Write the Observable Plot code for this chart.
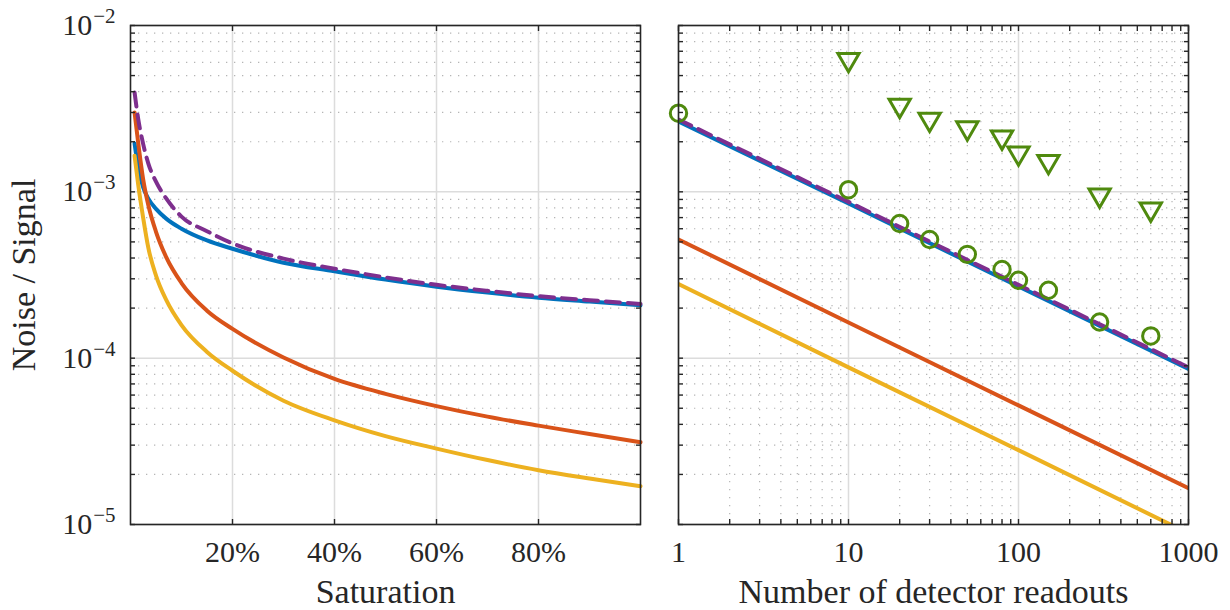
<!DOCTYPE html>
<html><head><meta charset="utf-8">
<script src="https://cdn.jsdelivr.net/npm/d3@7"></script>
<script src="https://cdn.jsdelivr.net/npm/@observablehq/plot@0.6"></script>
<style>
html,body{margin:0;padding:0;background:#fff;}
#wrap{display:flex;width:1230px;height:610px;overflow:hidden;}
</style></head><body><div id="wrap"></div>
<script>
// ---- Left panel: noise/signal vs saturation ----
const saturation = [0.008, 0.015, 0.025, 0.035, 0.05, 0.07, 0.1, 0.15, 0.2, 0.3, 0.4, 0.5, 0.6, 0.7, 0.8, 0.9, 1.0];
const satBlue   = [1.95e-3, 1.40e-3, 1.06e-3, 9.1e-4, 7.9e-4, 6.9e-4, 6.0e-4, 5.1e-4, 4.55e-4, 3.75e-4, 3.33e-4, 2.97e-4, 2.69e-4, 2.48e-4, 2.31e-4, 2.19e-4, 2.08e-4];
const satRed    = [3.0e-3, 1.98e-3, 1.18e-3, 8.3e-4, 5.75e-4, 4.05e-4, 2.83e-4, 1.93e-4, 1.5e-4, 1.01e-4, 7.5e-5, 6.1e-5, 5.15e-5, 4.45e-5, 3.93e-5, 3.5e-5, 3.12e-5];
const satYellow = [1.65e-3, 1.11e-3, 6.93e-4, 4.6e-4, 3.14e-4, 2.24e-4, 1.58e-4, 1.09e-4, 8.4e-5, 5.55e-5, 4.23e-5, 3.4e-5, 2.86e-5, 2.44e-5, 2.12e-5, 1.89e-5, 1.70e-5];
const satPurple = [3.95e-3, 2.76e-3, 1.93e-3, 1.478e-3, 1.151e-3, 9.12e-4, 7.1e-4, 5.8e-4, 4.9e-4, 3.97e-4, 3.45e-4, 3.06e-4, 2.76e-4, 2.54e-4, 2.36e-4, 2.23e-4, 2.12e-4];
const satTicks = [0.2, 0.4, 0.6, 0.8];

// ---- Right panel: noise/signal vs number of readouts ----
const readouts = [1, 10, 100, 1000];
const readBlue   = [2.65e-3, 8.5e-4, 2.7e-4, 8.6e-5];
const readPurple = [2.72e-3, 8.7e-4, 2.76e-4, 8.8e-5];
const readRed    = [5.17e-4, 1.64e-4, 5.2e-5, 1.65e-5];
const readYellow = [2.79e-4, 8.8e-5, 2.8e-5, 8.85e-6];
const circleN = [1, 10, 20, 30, 50, 80, 100, 150, 300, 600];
const circleV = [2.97e-3, 1.03e-3, 6.45e-4, 5.17e-4, 4.21e-4, 3.41e-4, 2.94e-4, 2.56e-4, 1.65e-4, 1.36e-4];
const triN = [10, 20, 30, 50, 80, 100, 150, 300, 600];
const triV = [6.24e-3, 3.31e-3, 2.73e-3, 2.42e-3, 2.13e-3, 1.71e-3, 1.52e-3, 9.54e-4, 7.86e-4];
const readTicks = [1, 10, 100, 1000];

// ---- Axis tick positions ----
const yMajor = [1e-5, 1e-4, 1e-3, 1e-2];
const yMinor = [1e-5, 1e-4, 1e-3].flatMap(d => [2,3,4,5,6,7,8,9].map(k => k * d));
const xMinorLog = [1, 10, 100].flatMap(d => [2,3,4,5,6,7,8,9].map(k => k * d));

const C = {blue:"#0072BD", red:"#D95319", yellow:"#EDB120", purple:"#7E2F8E", green:"#4F8A0E", axis:"#262626"};
const FONT = '"Liberation Serif", "DejaVu Serif", serif';
const gridMinor = {stroke:"#b5b5b5", strokeWidth:1.2, strokeDasharray:"1.3,6.7"};
const gridMajor = {stroke:"#dcdcdc", strokeWidth:1.5};
const lineW = 4;
const labelStyle = {fontSize: 34, fill: C.axis, textAnchor: "middle", lineAnchor: "middle", letterSpacing: "0.6px"};

function tickMarks(axis, anchor, ticks) {
  const f = axis === "y" ? Plot.axisY : Plot.axisX;
  return f({anchor, ticks, tickSize:-5, tickFormat:() => "", label:null, stroke:C.axis, strokeWidth:1.4});
}

const common = {
  height: 610, marginTop: 25, marginBottom: 86,
  y: {type:"log", domain:[1e-5, 1e-2]},
  style: {fontFamily: FONT, fontSize: "30px", color: C.axis, background: "#fff", overflow: "visible"}
};

const left = Plot.plot({
  ...common,
  width: 660, marginLeft: 130, marginRight: 20,
  x: {type:"linear", domain:[0, 1]},
  marks: [
    Plot.ruleY(yMinor, gridMinor),
    Plot.ruleY(yMajor, gridMajor),
    Plot.ruleX(satTicks, gridMajor),
    Plot.line(saturation, {x: d => d, y: satBlue, stroke: C.blue, strokeWidth: lineW, curve: "monotone-x"}),
    Plot.line(saturation, {x: d => d, y: satRed, stroke: C.red, strokeWidth: lineW, curve: "monotone-x"}),
    Plot.line(saturation, {x: d => d, y: satYellow, stroke: C.yellow, strokeWidth: lineW, curve: "monotone-x"}),
    Plot.line(saturation, {x: d => d, y: satPurple, stroke: C.purple, strokeWidth: lineW, strokeDasharray: "14,8", curve: "monotone-x"}),
    Plot.frame({stroke: C.axis, strokeWidth: 1.6}),
    tickMarks("y", "left", [...yMajor, ...yMinor]),
    tickMarks("y", "right", [...yMajor, ...yMinor]),
    tickMarks("x", "bottom", satTicks),
    tickMarks("x", "top", satTicks),
    Plot.axisY({anchor:"left", ticks: yMajor, tickSize: 0, tickPadding: 15, tickFormat: d => "10^" + Math.round(Math.log10(d)), label: null, fill: C.axis}),
    Plot.axisX({anchor:"bottom", ticks: satTicks, tickSize: 0, tickPadding: 16, tickFormat: d => Math.round(d * 100) + "%", label: null, fill: C.axis}),
    Plot.text(["Noise / Signal"], {frameAnchor: "left", rotate: -90, dx: -106, ...labelStyle, letterSpacing: "0px"}),
    Plot.text(["Saturation"], {frameAnchor: "bottom", dy: 68, ...labelStyle})
  ]
});

const right = Plot.plot({
  ...common,
  width: 570, marginLeft: 18, marginRight: 42,
  x: {type:"log", domain:[1, 1000]},
  marks: [
    Plot.ruleY(yMinor, gridMinor),
    Plot.ruleX(xMinorLog, gridMinor),
    Plot.ruleY(yMajor, gridMajor),
    Plot.ruleX(readTicks, gridMajor),
    Plot.line(readouts, {x: d => d, y: readBlue, stroke: C.blue, strokeWidth: lineW, clip: true}),
    Plot.line(readouts, {x: d => d, y: readRed, stroke: C.red, strokeWidth: lineW, clip: true}),
    Plot.line(readouts, {x: d => d, y: readYellow, stroke: C.yellow, strokeWidth: lineW, clip: true}),
    Plot.line(readouts, {x: d => d, y: readPurple, stroke: C.purple, strokeWidth: lineW, strokeDasharray: "14,8", clip: true}),
    Plot.dot(circleN, {x: d => d, y: circleV, r: 8.2, stroke: C.green, strokeWidth: 3, fill: "none"}),
    Plot.dot(triN, {x: d => d, y: triV, symbol: "triangle", r: 7.9, rotate: 180, stroke: C.green, strokeWidth: 3, fill: "none", strokeLinejoin: "miter"}),
    Plot.frame({stroke: C.axis, strokeWidth: 1.6}),
    tickMarks("y", "left", [...yMajor, ...yMinor]),
    tickMarks("y", "right", [...yMajor, ...yMinor]),
    tickMarks("x", "bottom", [...readTicks, ...xMinorLog]),
    tickMarks("x", "top", [...readTicks, ...xMinorLog]),
    Plot.axisX({anchor:"bottom", ticks: readTicks, tickSize: 0, tickPadding: 16, tickFormat: d => String(d), label: null, fill: C.axis}),
    Plot.text(["Number of detector readouts"], {frameAnchor: "bottom", dy: 68, ...labelStyle})
  ]
});

// superscript exponents on the y tick labels
const NS = "http://www.w3.org/2000/svg";
left.querySelectorAll('g[aria-label="y-axis tick label"] text').forEach(t => {
  const s = t.textContent;
  if (!s.startsWith("10^")) return;
  const e = s.slice(3).replace("-", "\u2212");
  t.textContent = "";
  const a = document.createElementNS(NS, "tspan"); a.textContent = "10"; t.appendChild(a);
  const b = document.createElementNS(NS, "tspan"); b.textContent = e;
  b.setAttribute("dy", "-12"); b.setAttribute("dx", "1"); b.setAttribute("font-size", "21"); t.appendChild(b);
});

document.getElementById("wrap").append(left, right);
</script>
</body></html>
